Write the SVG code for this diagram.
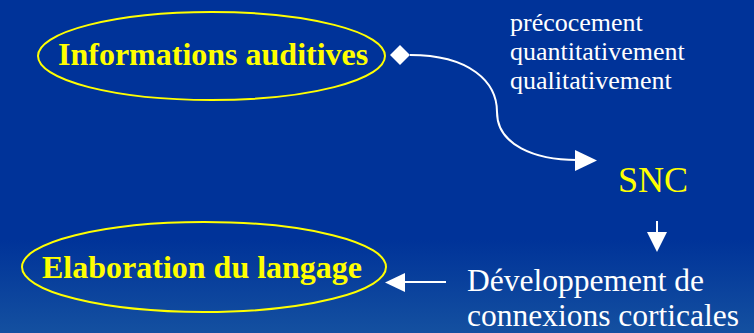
<svg xmlns="http://www.w3.org/2000/svg" width="754" height="333" viewBox="0 0 754 333">
<defs>
<linearGradient id="bg" x1="0" y1="0" x2="0" y2="1">
<stop offset="0" stop-color="#003399"/>
<stop offset="0.72" stop-color="#003399"/>
<stop offset="1" stop-color="#1450a0"/>
</linearGradient>
<style>
.ell{fill:none;stroke:#ffff00;stroke-width:2}
.lbl{font-family:"Liberation Serif","Times New Roman",serif;font-weight:bold;font-size:32px;fill:#ffff00}
.wt{font-family:"Liberation Serif","Times New Roman",serif;fill:#ffffff}
.conn{fill:none;stroke:#ffffff;stroke-width:2}
.head{fill:#ffffff;stroke:none}
</style>
</defs>
<rect x="0" y="0" width="754" height="333" fill="url(#bg)"/>
<g id="node-informations">
<ellipse class="ell" cx="211.5" cy="56" rx="173.5" ry="44"/>
<text class="lbl" x="58" y="65">Informations auditives</text>
</g>
<g id="node-qualifiers">
<text class="wt" x="510" y="31" font-size="26">précocement</text>
<text class="wt" x="510" y="60" font-size="26">quantitativement</text>
<text class="wt" x="510" y="89" font-size="26">qualitativement</text>
</g>
<g id="node-snc">
<text x="618" y="192" font-family="Liberation Serif, Times New Roman, serif" font-size="36" fill="#ffff00">SNC</text>
</g>
<g id="node-elaboration">
<ellipse class="ell" cx="204" cy="267" rx="182" ry="45"/>
<text class="lbl" x="42" y="278">Elaboration du langage</text>
</g>
<g id="node-developpement">
<text class="wt" x="467" y="291" font-size="31.5">Développement de</text>
<text class="wt" x="467" y="326" font-size="31.5">connexions corticales</text>
</g>
<g id="connectors">
<polygon class="head" points="390,55 400,45 410,55 400,65"/>
<path class="conn" d="M410,55 C470,55 497,82 497,112 C497,145 535,160 577,160"/>
<polygon class="head" points="575,150 597,160.5 575,171"/>
<line class="conn" x1="657" y1="221" x2="657" y2="233"/>
<polygon class="head" points="647,232 667,232 657,252"/>
<line class="conn" x1="446" y1="282" x2="402" y2="282"/>
<polygon class="head" points="405,273 405,292 385,282.5"/>
</g>
</svg>
